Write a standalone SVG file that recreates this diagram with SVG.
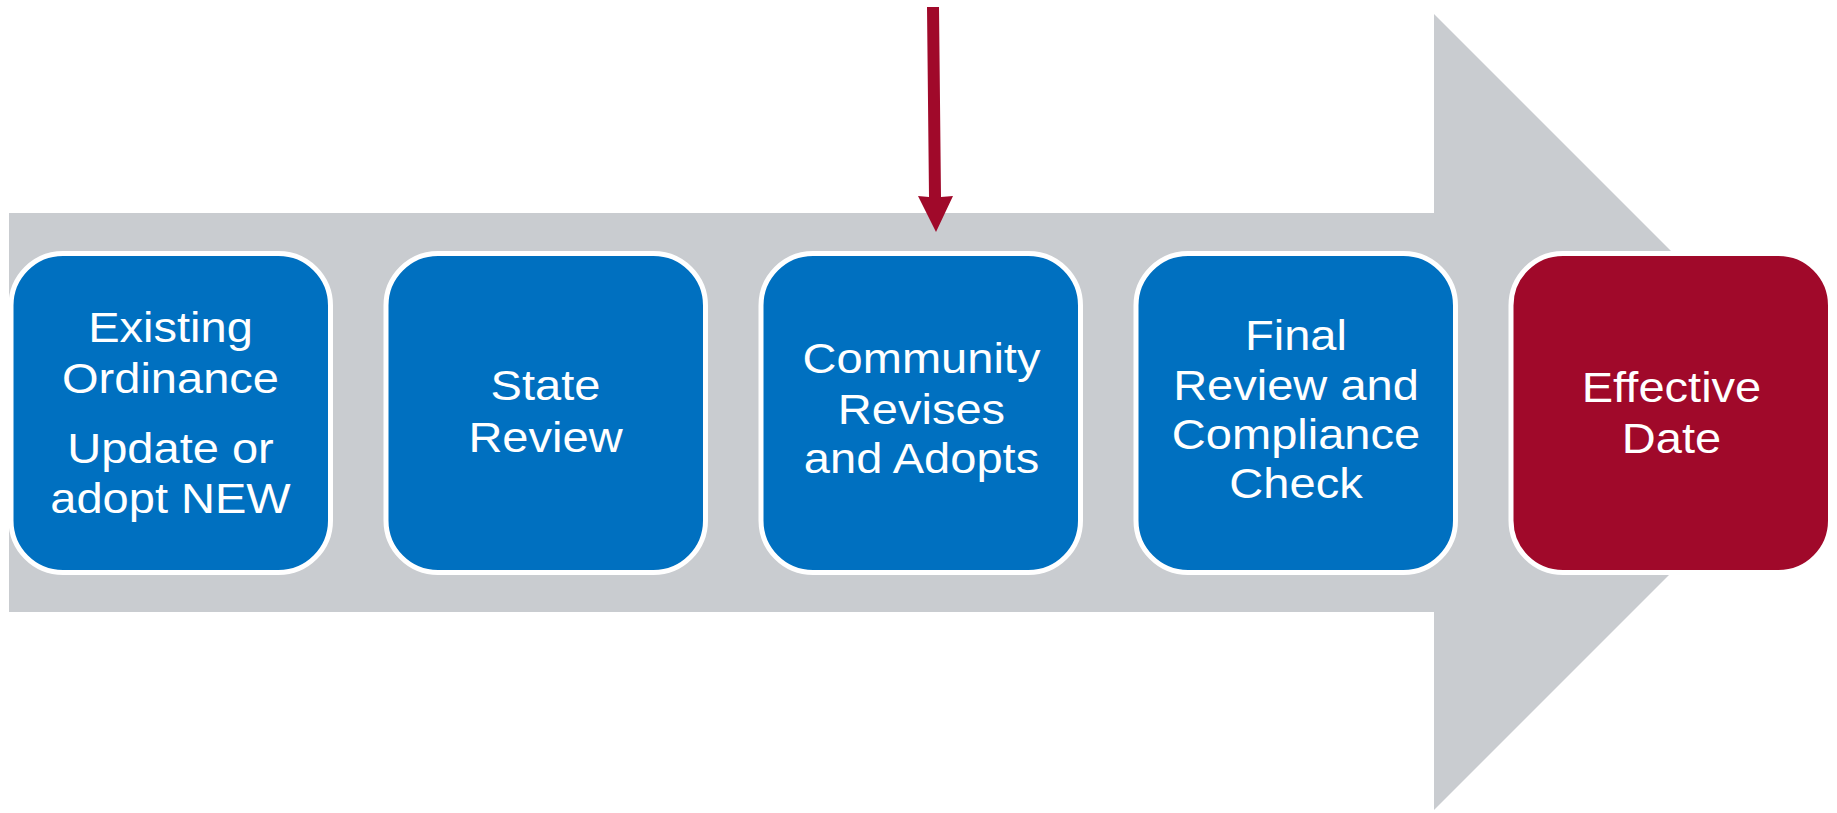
<svg xmlns="http://www.w3.org/2000/svg" width="1837" height="813" viewBox="0 0 1837 813">
<style>
.box{stroke:#FFFFFF;stroke-width:5}
.blue{fill:#0070C0}
.red{fill:#A0092A}
.t{font-family:"Liberation Sans",Arial,sans-serif;font-size:42px;fill:#FFFFFF;text-anchor:middle}
</style>
<rect width="1837" height="813" fill="#FFFFFF"/>
<g id="big-arrow">
<polygon points="9,213 1434,213 1434,14 1832,412 1434,810 1434,612 9,612" fill="#C9CCD0"/>
</g>
<g id="node1">
<rect class="box blue" x="11" y="253.5" width="319.5" height="319" rx="52"/>
<g transform="translate(170.5 0) scale(1.12 1)">
<text class="t" x="0" y="342">Existing</text>
<text class="t" x="0" y="393">Ordinance</text>
<text class="t" x="0" y="463">Update or</text>
<text class="t" x="0" y="513">adopt NEW</text>
</g>
</g>
<g id="node2">
<rect class="box blue" x="386" y="253.5" width="319.5" height="319" rx="52"/>
<g transform="translate(545.5 0) scale(1.12 1)">
<text class="t" x="0" y="400">State</text>
<text class="t" x="0" y="452">Review</text>
</g>
</g>
<g id="node3">
<rect class="box blue" x="761" y="253.5" width="319.5" height="319" rx="52"/>
<g transform="translate(921.5 0) scale(1.12 1)">
<text class="t" x="0" y="373">Community</text>
<text class="t" x="0" y="424">Revises</text>
<text class="t" x="0" y="473">and Adopts</text>
</g>
</g>
<g id="node4">
<rect class="box blue" x="1136" y="253.5" width="319.5" height="319" rx="52"/>
<g transform="translate(1296 0) scale(1.12 1)">
<text class="t" x="0" y="350">Final</text>
<text class="t" x="0" y="400">Review and</text>
<text class="t" x="0" y="449">Compliance</text>
<text class="t" x="0" y="498">Check</text>
</g>
</g>
<g id="node5">
<rect class="box red" x="1511" y="253.5" width="319.5" height="319" rx="52"/>
<g transform="translate(1671.5 0) scale(1.12 1)">
<text class="t" x="0" y="402">Effective</text>
<text class="t" x="0" y="453">Date</text>
</g>
</g>
<g id="connectors">
<polygon points="927,7 939,7 941,197 953,196 936,232 918,196 929,197" fill="#A0092A"/>
</g>
</svg>
